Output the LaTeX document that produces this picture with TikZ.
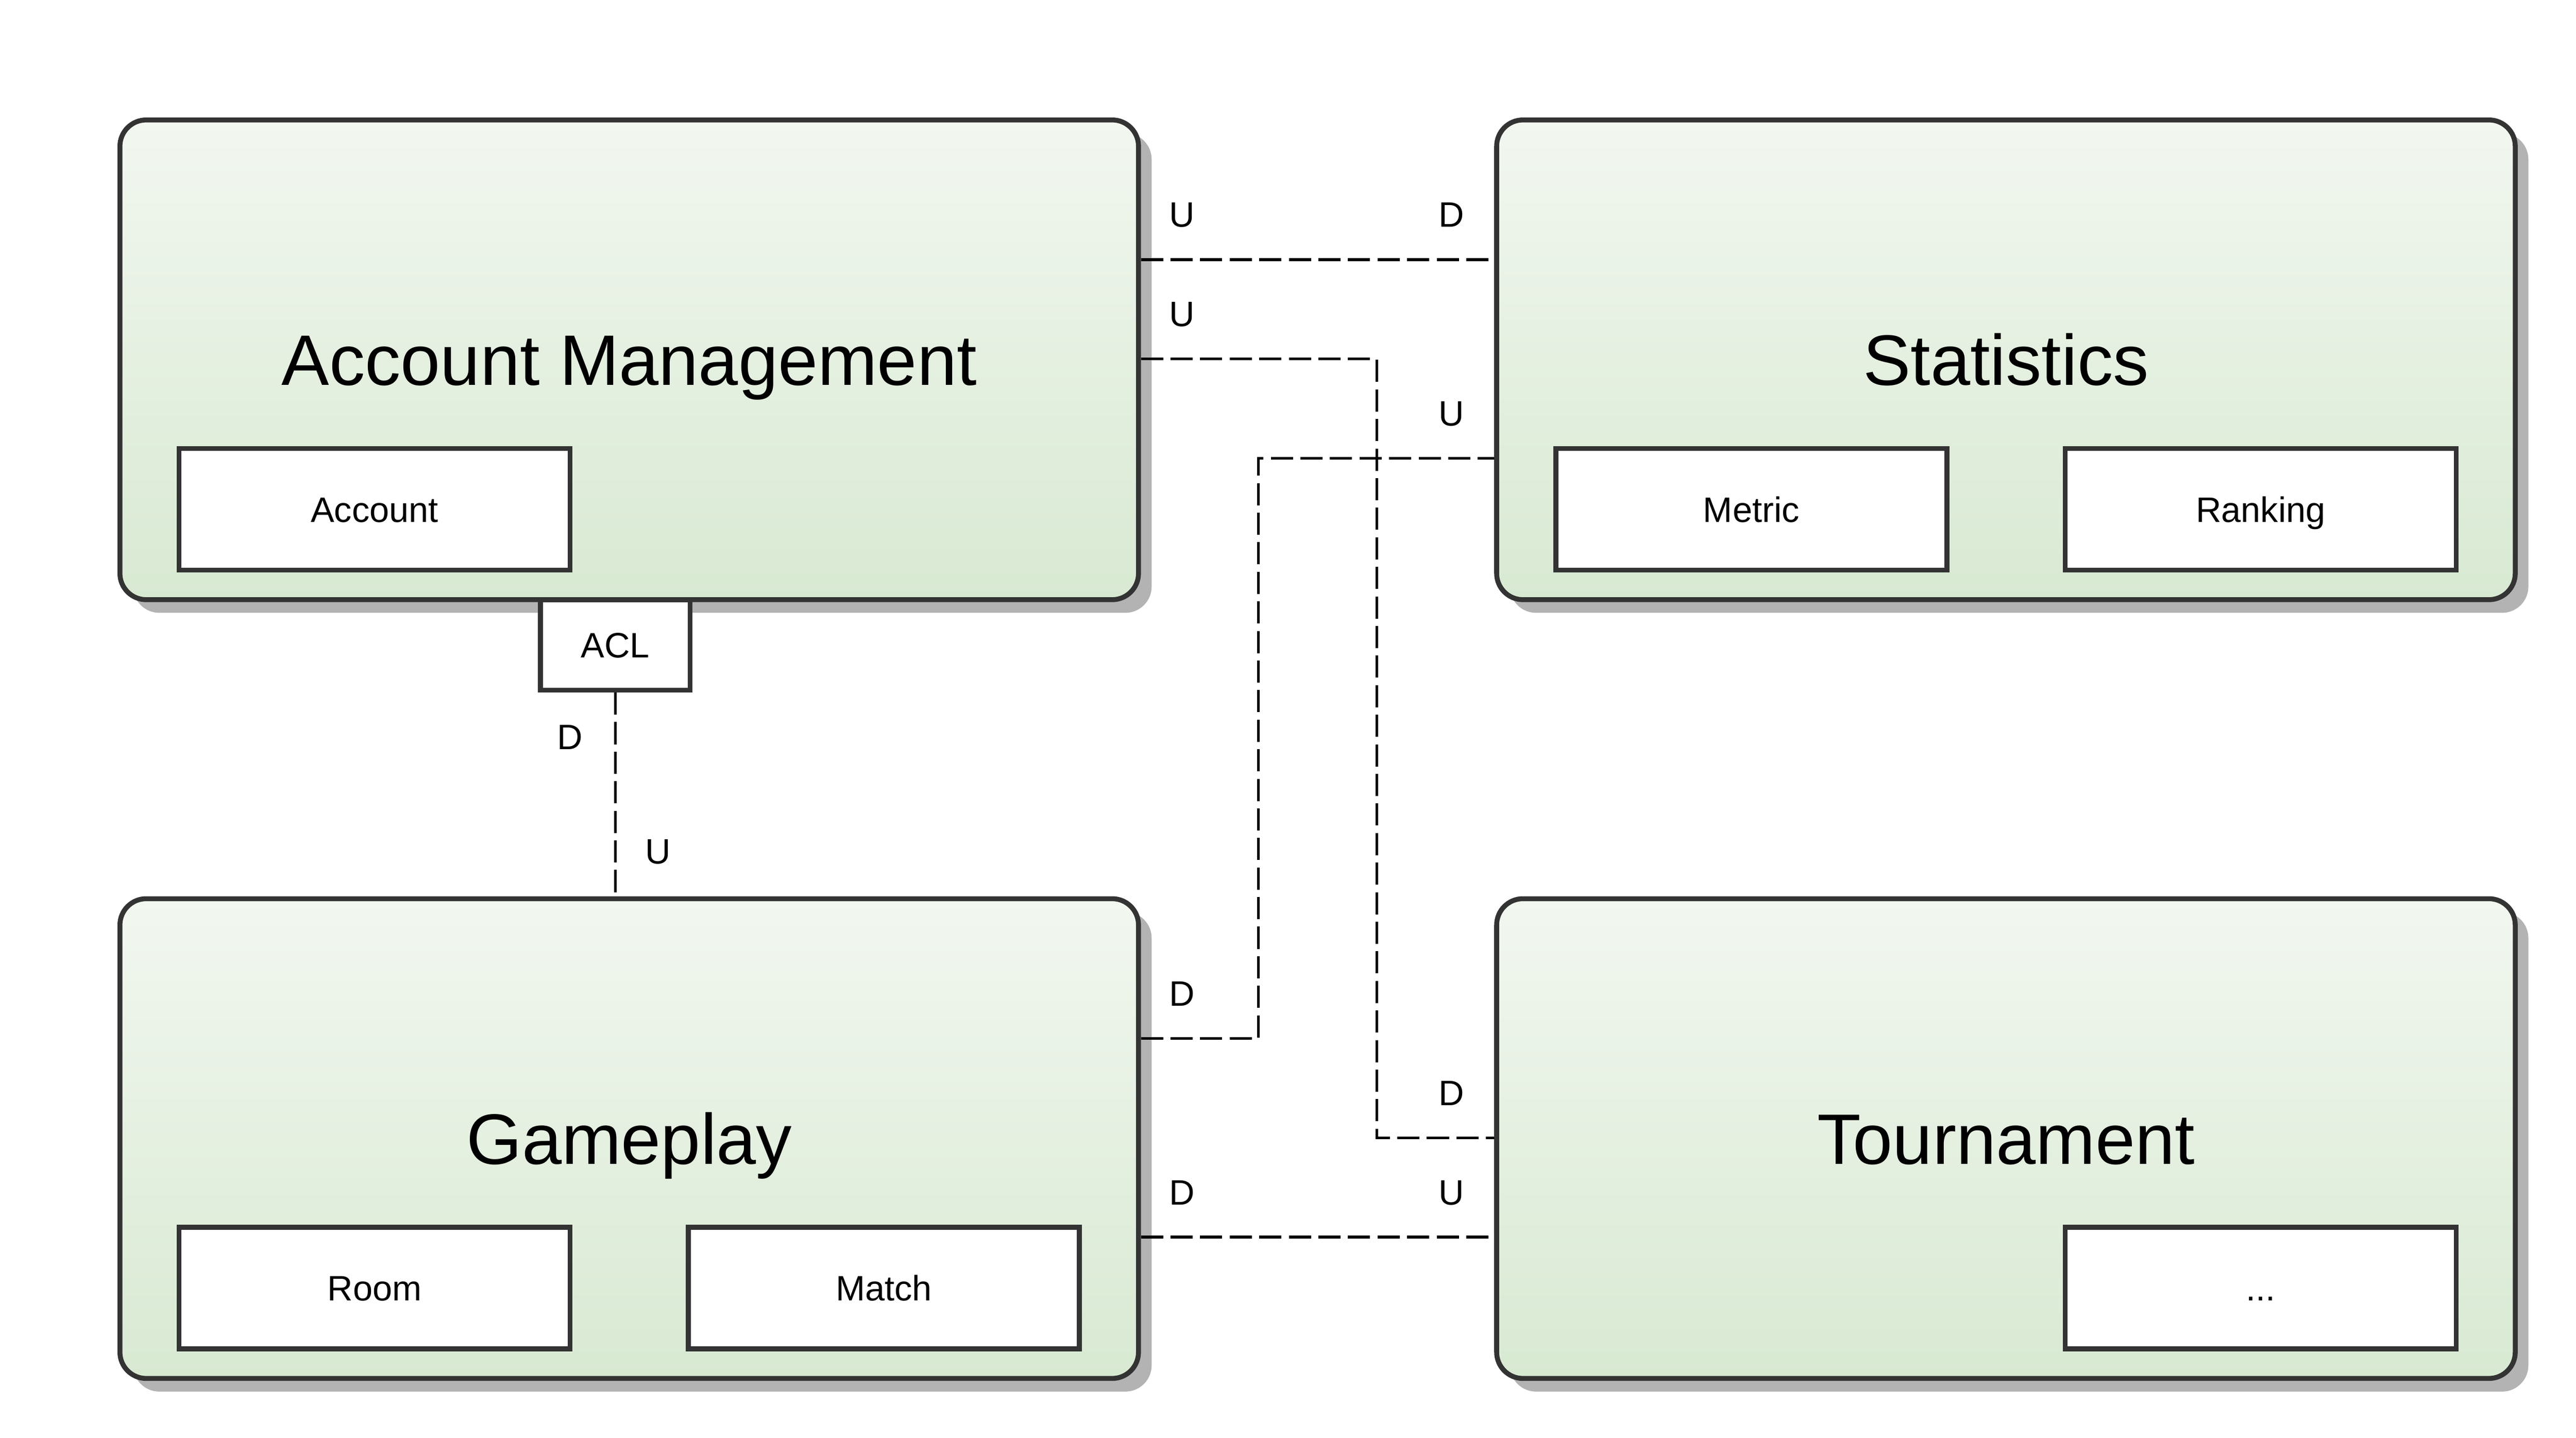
\documentclass[tikz,border=0pt]{standalone}
\usepackage{fontspec}
\setmainfont{Liberation Sans}
\usetikzlibrary{shadows}
\definecolor{boxline}{HTML}{333333}
\definecolor{shadowgray}{HTML}{B3B3B3}
\definecolor{ctxtop}{HTML}{F2F7F0}
\definecolor{ctxbottom}{HTML}{D8E9D2}
\tikzset{
  context/.style={draw=boxline, line width=3pt, rounded corners=16pt,
    top color=ctxtop, bottom color=ctxbottom,
    minimum width=620pt, minimum height=292pt, inner sep=0pt,
    font=\fontsize{43.5}{50}\selectfont, text height=31.1pt, text depth=0pt,
    drop shadow={shadow xshift=8pt, shadow yshift=-8pt, fill=shadowgray, opacity=1}},
  entity/.style={draw=boxline, line width=3pt, fill=white,
    minimum width=238pt, minimum height=74pt, inner sep=0pt,
    font=\fontsize{21.5}{26}\selectfont, text height=15.4pt, text depth=0pt},
  rel/.style={draw=black, line width=1.7pt, dash pattern=on 13.5pt off 4.5pt},
  side/.style={inner sep=0pt, font=\fontsize{21.5}{26}\selectfont, text height=15.4pt, text depth=0pt}
}
\begin{document}
\begin{tikzpicture}[x=1pt,y=-1pt]
\useasboundingbox (0,0) rectangle (1568,875.2);

\node[context] (am) at (383,219) {Account Management};
\node[context] (stats) at (1221,219) {Statistics};
\node[context] (game) at (383,693) {Gameplay};
\node[context] (tourn) at (1221,693) {Tournament};

\node[entity] (account) at (228,310) {Account};
\node[entity] (metric) at (1066,310) {Metric};
\node[entity] (ranking) at (1376,310) {Ranking};
\node[entity] (room) at (228,784) {Room};
\node[entity] (match) at (538,784) {Match};
\node[entity] (more) at (1376,784) {...};
\node[entity, minimum width=91pt, minimum height=55pt] (acl) at (374.5,392.5) {ACL};

\path[rel] (am.east |- 0,158) -- node[side,at start,xshift=25pt,yshift=27.5pt] {U}
  node[side,at end,xshift=-26pt,yshift=27.5pt] {D} (stats.west |- 0,158);
\path[rel] (am.east |- 0,218.5) -- node[side,at start,xshift=25pt,yshift=27.5pt] {U} (838,218.5)
  |- node[side,at end,xshift=-26pt,yshift=27.5pt] {D} (tourn.west |- 0,692.5);
\path[rel] (game.east |- 0,632) -- node[side,at start,xshift=25pt,yshift=27.5pt] {D} (766,632)
  |- node[side,at end,xshift=-26pt,yshift=27.5pt] {U} (stats.west |- 0,279);
\path[rel] (game.east |- 0,753) -- node[side,at start,xshift=25pt,yshift=27.5pt] {D}
  node[side,at end,xshift=-26pt,yshift=27.5pt] {U} (tourn.west |- 0,753);
\path[rel] (acl.south) -- node[side,at start,xshift=-27.5pt,yshift=-27pt] {D}
  node[side,at end,xshift=26pt,yshift=27.5pt] {U} (acl.south |- game.north);
\end{tikzpicture}
\end{document}
